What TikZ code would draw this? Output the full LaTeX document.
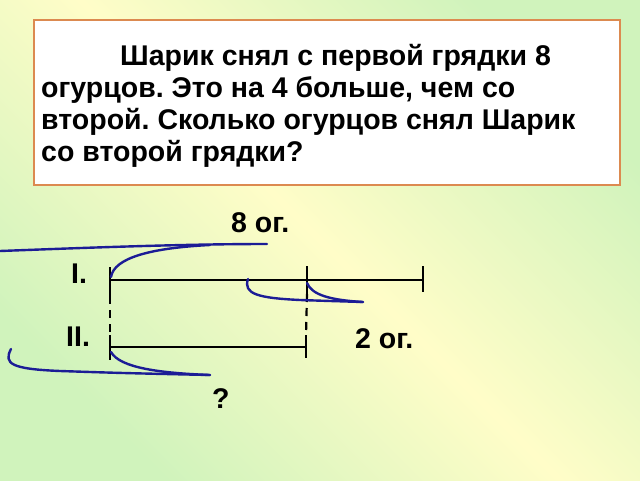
\documentclass[tikz,border=0pt]{standalone}
\usepackage{fontspec}
\setmainfont{Liberation Sans}
\frenchspacing
\definecolor{bgyellow}{HTML}{FFFDC8}
\definecolor{bggreen}{HTML}{D0F3BC}
\definecolor{boxorange}{HTML}{DC8A50}
\definecolor{penblue}{HTML}{1C1C96}
\tikzset{
  qtext/.style={anchor=base west, inner sep=0pt, font=\fontsize{28.5}{32}\selectfont\bfseries},
  lbl/.style={anchor=base west, inner sep=0pt, font=\fontsize{28.5}{32}\selectfont\bfseries},
  seg/.style={line width=2.2pt, black},
  tickline/.style={line width=2.4pt, black},
  dashline/.style={line width=2.2pt, black, dash pattern=on 8pt off 6pt},
  pen/.style={line width=2.4pt, penblue, line cap=round},
}
\begin{document}
\begin{tikzpicture}[x=1pt,y=-1pt]
\useasboundingbox (0,0) rectangle (640,480);
\shade[left color=bggreen, right color=bggreen, middle color=bgyellow, shading angle=-45] (0,0) rectangle (640,480);
% problem box
\draw[boxorange, line width=2pt, fill=white] (34,20) rectangle (620,185);
\node[qtext] (q1) at (120,65) {Шарик снял с первой грядки 8};
\node[qtext] (q2) at (41,97) {огурцов. Это на 4 больше, чем со};
\node[qtext] (q3) at (41,129) {второй. Сколько огурцов снял Шарик};
\node[qtext] (q4) at (41,161) {со второй грядки?};
% labels
\node[lbl] (eight) at (231,232) {8 ог.};
\node[lbl] (one) at (71,283) {I.};
\node[lbl] (two) at (66,346) {II.};
\node[lbl] (twoog) at (355,348) {2 ог.};
\node[lbl] (qm) at (212,408) {?};
% coordinates
\coordinate (A1) at (110,280);
\coordinate (B1) at (307,280);
\coordinate (C1) at (423,280);
\coordinate (A2) at (110,347);
\coordinate (B2) at (306,347);
\coordinate (A1t) at (110,267); \coordinate (A1b) at (110,296);
\coordinate (B1t) at (307,266); \coordinate (B1b) at (307,294);
\coordinate (C1t) at (423,266); \coordinate (C1b) at (423,292);
\coordinate (A2t) at (110,335); \coordinate (A2b) at (110,360);
\coordinate (B2t) at (306,335); \coordinate (B2b) at (306,358);
% segments
\draw[seg] (A1) -- (C1);
\draw[seg] (A2) -- (B2);
\draw[tickline] (A1t) -- (A1b);
\draw[tickline] (B1t) -- (B1b);
\draw[tickline] (C1t) -- (C1b);
\draw[tickline] (A2t) -- (A2b);
\draw[tickline] (B2t) -- (B2b);
\draw[dashline] (A1b) -- (A2t);
\draw[dashline] (B1b) -- (B2t);
% hand-drawn braces
\coordinate (u0) at (0,251);
\coordinate (u1) at (267,244);
\coordinate (u2) at (111,277);
\coordinate (u3) at (210,245);
\draw[pen] (u0) .. controls (80,248) and (180,244) .. (u1);
\draw[pen] (u2) .. controls (114,258) and (150,248) .. (u3);
\coordinate (s0) at (248,279);
\coordinate (s1) at (363,302);
\coordinate (s2) at (307,283);
\draw[pen] (s0) .. controls (243,294) and (258,298) .. (300,300) .. controls (330,301) .. (s1);
\draw[pen] (s2) .. controls (312,295) and (330,300) .. (s1);
\coordinate (d0) at (11,349);
\coordinate (d1) at (210,375);
\coordinate (d2) at (111,352);
\draw[pen] (d0) .. controls (3,364) and (12,369) .. (60,371) .. controls (120,373) .. (d1);
\draw[pen] (d2) .. controls (120,368) and (160,373) .. (d1);
\end{tikzpicture}
\end{document}
